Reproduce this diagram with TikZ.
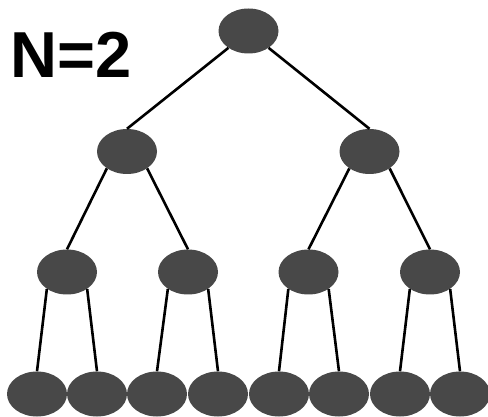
\documentclass[tikz,border=0pt]{standalone}
\usepackage{fontspec}
\setmainfont{Liberation Sans}
\usetikzlibrary{shapes.geometric}
\definecolor{nodegray}{RGB}{72,72,72}
\begin{document}
\begin{tikzpicture}[x=1pt,y=-1pt,
  vertex/.style={ellipse,fill=nodegray,draw=none,minimum width=60pt,minimum height=45pt,inner sep=0pt},
  link/.style={line width=2.6pt,black}]
\useasboundingbox (0,0) rectangle (488,417);
% title
\node[font=\bfseries\fontsize{65}{65}\selectfont,anchor=center] (title) at (71,55) {N=2};
% root
\node[vertex] (r) at (248.5,31) {};
% level 1
\node[vertex] (a) at (127,151.5) {};
\node[vertex] (b) at (369.5,151.5) {};
% level 2
\node[vertex] (a1) at (67,272) {};
\node[vertex] (a2) at (188,272) {};
\node[vertex] (b1) at (308.5,272) {};
\node[vertex] (b2) at (430,272) {};
% leaves
\node[vertex] (l1) at (37,394) {};
\node[vertex] (l2) at (97,394) {};
\node[vertex] (l3) at (157,394) {};
\node[vertex] (l4) at (218,394) {};
\node[vertex] (l5) at (279,394) {};
\node[vertex] (l6) at (339,394) {};
\node[vertex] (l7) at (400,394) {};
\node[vertex] (l8) at (460,394) {};
% edges
\draw[link] (r.220) -- (a.north);
\draw[link] (r.320) -- (b.north);
\draw[link] (a.220) -- (a1.north);
\draw[link] (a.320) -- (a2.north);
\draw[link] (b.220) -- (b1.north);
\draw[link] (b.320) -- (b2.north);
\draw[link] (a1.220) -- (l1.north);
\draw[link] (a1.320) -- (l2.north);
\draw[link] (a2.220) -- (l3.north);
\draw[link] (a2.320) -- (l4.north);
\draw[link] (b1.220) -- (l5.north);
\draw[link] (b1.320) -- (l6.north);
\draw[link] (b2.220) -- (l7.north);
\draw[link] (b2.320) -- (l8.north);
\end{tikzpicture}
\end{document}
